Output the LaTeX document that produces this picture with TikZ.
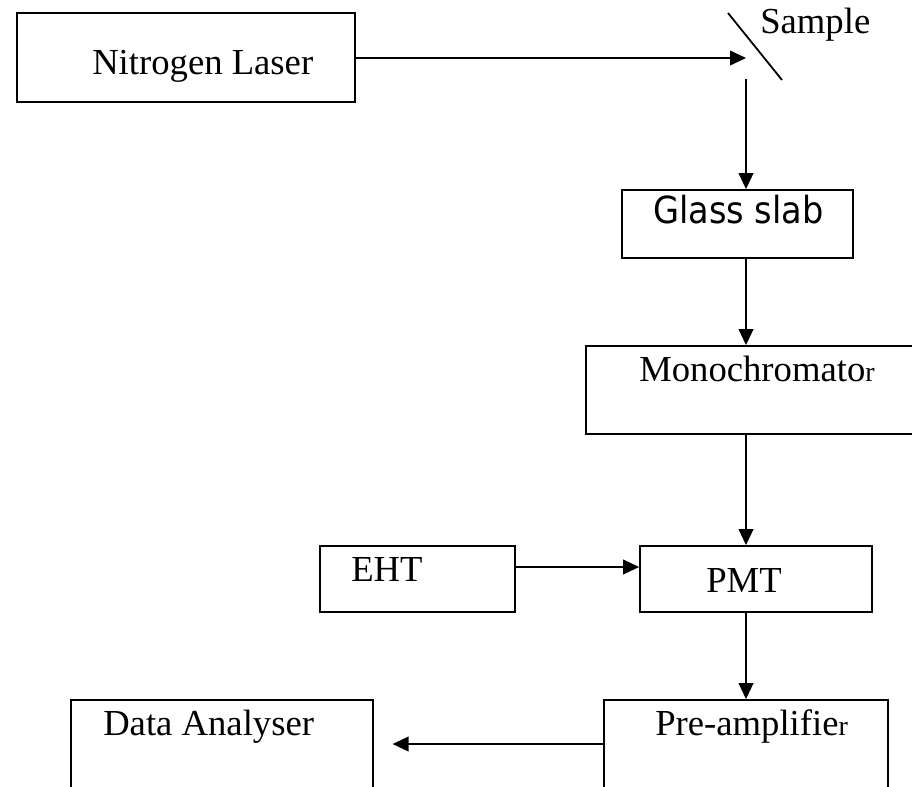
\documentclass[tikz,border=0pt]{standalone}
\usepackage{fontspec}
\setmainfont{Liberation Serif}
\newfontfamily\slabfont{DejaVu Sans Condensed}
\usetikzlibrary{arrows.meta,positioning,calc}
\tikzset{
  blok/.style={draw,line width=1.35pt,inner sep=0pt},
  lbl/.style={inner sep=0pt,anchor=base west,font=\fontsize{27.5}{33}\selectfont},
  arr/.style={-{Triangle[length=12pt,width=11pt]},line width=1.35pt}
}
\newcommand{\tailr}{{\fontsize{21}{24}\selectfont r}}

\begin{document}
\begin{tikzpicture}[x=0.75pt,y=-0.75pt]
        \useasboundingbox (0,0) rectangle (912,786);
        % boxes
        \node[blok,minimum width=253.5pt,minimum height=66.75pt] (laser) at (186,57.5) {};
        \node[blok,minimum width=173.25pt,minimum height=51pt] (glass) at (737.5,224) {};
        \node[blok,minimum width=254.25pt,minimum height=66pt] (mono) at (755.5,390) {};
        \node[blok,minimum width=146.25pt,minimum height=49.5pt] (eht) at (417.5,579) {};
        \node[blok,minimum width=174pt,minimum height=49.5pt] (pmt) at (756,579) {};
        \node[blok,minimum width=213pt,minimum height=90pt] (pre) at (746,760) {};
        \node[blok,minimum width=226.5pt,minimum height=90pt] (data) at (222,760) {};
        % texts
        \node[lbl] (laserTxt) at (92,74) {Nitrogen Laser};
        \node[lbl] (sampleTxt) at (760,33) {Sample};
        \node[lbl,font=\slabfont\fontsize{28}{33}\selectfont] (glassTxt) at (653,223) {Glass slab};
        \node[lbl] (monoTxt) at (639,381) {Monochromato\tailr};
        \node[lbl] (ehtTxt) at (351,581) {EHT};
        \node[lbl] (pmtTxt) at (706,592) {PMT};
        \node[lbl] (dataTxt) at (103,735) {Data Analyser};
        \node[lbl] (preTxt) at (655,735) {Pre-amplifie\tailr};
        % sample mirror
        \coordinate (sampleIn) at (746,58);
        \coordinate (sampleOut) at (746,79);
        \draw[line width=1.35pt] (728,13) -- (782,80);
        % connectors
        \draw[arr] (laser.east |- sampleIn) -- (sampleIn);
        \draw[arr] (sampleOut) -- (sampleOut |- glass.north);
        \draw[arr] (sampleOut |- glass.south) -- (sampleOut |- mono.north);
        \draw[arr] (sampleOut |- mono.south) -- (sampleOut |- pmt.north);
        \draw[arr] ([yshift=9pt]eht.east) -- ([yshift=9pt]pmt.west);
        \draw[arr] (sampleOut |- pmt.south) -- (sampleOut |- pre.north);
        \draw[arr] ([yshift=12pt]pre.west) -- ([yshift=12pt,xshift=14pt]data.east);
      \end{tikzpicture}
\end{document}
